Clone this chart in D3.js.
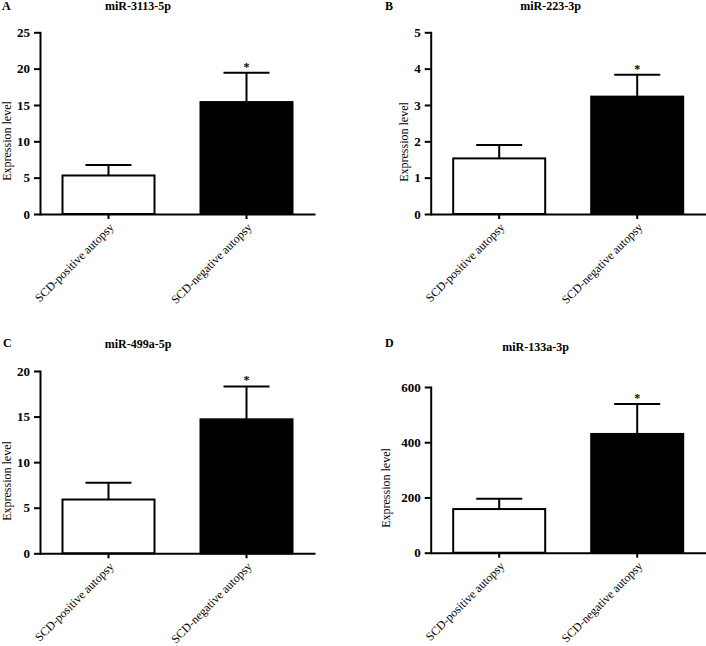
<!DOCTYPE html>
<html>
<head>
<meta charset="utf-8">
<script src="https://cdn.jsdelivr.net/npm/d3@7"></script>
<style>
  html, body { margin: 0; padding: 0; background: #fff; }
  svg { display: block; }
  svg text { font-family: 'Liberation Serif', 'Times New Roman', serif; fill: #000; }
</style>
</head>
<body>
<svg id="chart" width="706" height="646"></svg>
<script>
// ---- data ----
const categories = ["SCD-positive autopsy", "SCD-negative autopsy"];
const panelLetters = ["A", "B", "C", "D"];
const panelTitles = ["miR-3113-5p", "miR-223-3p", "miR-499a-5p", "miR-133a-3p"];
const meanValues = [[5.3, 15.4], [1.53, 3.23], [5.9, 14.7], [158, 430]];
const errorTops = [[6.75, 19.45], [1.9, 3.83], [7.75, 18.3], [195, 538]];
const yMaxValues = [25, 5, 20, 600];
const yTickValues = [
  [0, 5, 10, 15, 20, 25],
  [0, 1, 2, 3, 4, 5],
  [0, 5, 10, 15, 20],
  [0, 200, 400, 600]
];
const significance = ["*", "*", "*", "*"];
const yAxisLabel = "Expression level";

// ---- layout (positions only) ----
const FONT = "'Liberation Serif', 'Times New Roman', serif";
const layout = [
  { x0: 40,    x1: 315,   yZero: 214,   yTop: 32.3, letter: [2, 10],   title: [138, 10],   ylab: [11, 141] },
  { x0: 430.7, x1: 705.7, yZero: 214,   yTop: 32.3, letter: [385, 10], title: [550.5, 10], ylab: [408, 142] },
  { x0: 40,    x1: 315,   yZero: 553.3, yTop: 371,  letter: [3, 347],  title: [138, 348],  ylab: [11, 481] },
  { x0: 430.7, x1: 705.7, yZero: 552.7, yTop: 387,  letter: [385, 347], title: [535.5, 351], ylab: [390, 488] }
];

const svg = d3.select("#chart");
const fills = ["#ffffff", "#000000"];

layout.forEach((L, i) => {
  const g = svg.append("g");

  const x = d3.scaleBand()
    .domain(categories)
    .range([L.x0, L.x1])
    .paddingInner(1 / 3)
    .paddingOuter(0.163);

  const y = d3.scaleLinear()
    .domain([0, yMaxValues[i]])
    .range([L.yZero, L.yTop]);

  const data = categories.map((c, j) => ({ cat: c, mean: meanValues[i][j], top: errorTops[i][j], fill: fills[j] }));

  // bars
  g.selectAll("rect.bar").data(data).enter().append("rect")
    .attr("class", "bar")
    .attr("x", d => x(d.cat))
    .attr("y", d => y(d.mean))
    .attr("width", x.bandwidth())
    .attr("height", d => y(0) - y(d.mean))
    .attr("fill", d => d.fill)
    .attr("stroke", "#000")
    .attr("stroke-width", 2);

  // error bars (upper only)
  const eb = g.selectAll("g.err").data(data).enter().append("g").attr("class", "err");
  eb.append("line")
    .attr("x1", d => x(d.cat) + x.bandwidth() / 2)
    .attr("x2", d => x(d.cat) + x.bandwidth() / 2)
    .attr("y1", d => y(d.mean))
    .attr("y2", d => y(d.top))
    .attr("stroke", "#000").attr("stroke-width", 2);
  eb.append("line")
    .attr("x1", d => x(d.cat) + x.bandwidth() / 4)
    .attr("x2", d => x(d.cat) + x.bandwidth() * 3 / 4)
    .attr("y1", d => y(d.top))
    .attr("y2", d => y(d.top))
    .attr("stroke", "#000").attr("stroke-width", 2);

  // significance star on second group
  g.append("text")
    .attr("x", x(categories[1]) + x.bandwidth() / 2)
    .attr("y", y(errorTops[i][1]) - 2)
    .attr("text-anchor", "middle")
    .style("font-family", FONT)
    .attr("font-size", 12)
    .attr("font-weight", "bold")
    .text(significance[i]);

  // y axis
  const yAxis = d3.axisLeft(y).tickValues(yTickValues[i]).tickSize(6).tickSizeOuter(0).tickPadding(4)
    .tickFormat(d3.format("d"));
  const ya = g.append("g").attr("transform", `translate(${L.x0},0)`).call(yAxis);
  ya.attr("font-family", null);
  ya.select(".domain").attr("stroke-width", 2).attr("stroke-linecap", "square");
  ya.selectAll(".tick line").attr("stroke-width", 2);
  ya.selectAll(".tick text")
    .style("font-family", FONT)
    .attr("font-size", 13).attr("font-weight", "bold").attr("fill", "#000");

  // x axis
  const xAxis = d3.axisBottom(x).tickSize(5).tickSizeOuter(0).tickFormat("");
  const xa = g.append("g").attr("transform", `translate(0,${L.yZero})`).call(xAxis);
  xa.select(".domain").attr("stroke-width", 2);
  xa.selectAll(".tick line").attr("stroke-width", 2);

  // category labels rotated
  g.selectAll("text.cat").data(categories).enter().append("text")
    .attr("class", "cat")
    .attr("transform", d => `translate(${x(d) + x.bandwidth() / 2 + 6},${L.yZero + 14}) rotate(-45)`)
    .attr("text-anchor", "end")
    .style("font-family", FONT)
    .attr("font-size", 12)
    .text(d => d);

  // y axis label
  g.append("text")
    .attr("transform", `translate(${L.ylab[0]},${L.ylab[1]}) rotate(-90)`)
    .attr("text-anchor", "middle")
    .style("font-family", FONT)
    .attr("font-size", 12)
    .text(yAxisLabel);

  // title
  g.append("text")
    .attr("x", L.title[0]).attr("y", L.title[1])
    .attr("text-anchor", "middle")
    .style("font-family", FONT)
    .attr("font-size", 12).attr("font-weight", "bold")
    .text(panelTitles[i]);

  // panel letter
  g.append("text")
    .attr("x", L.letter[0]).attr("y", L.letter[1])
    .style("font-family", FONT)
    .attr("font-size", 12).attr("font-weight", "bold")
    .text(panelLetters[i]);
});
</script>
</body>
</html>
